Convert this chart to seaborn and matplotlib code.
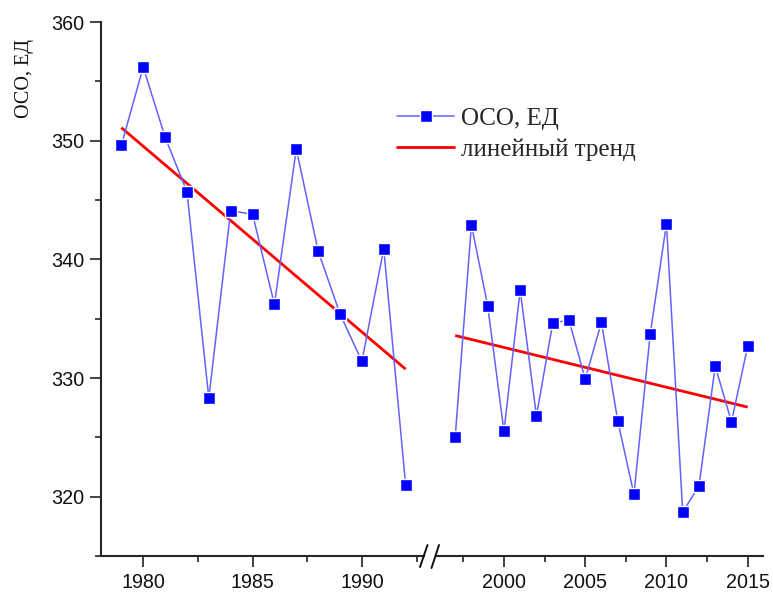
import numpy as np
import pandas as pd
import matplotlib
matplotlib.use("Agg")
import matplotlib.pyplot as plt
from matplotlib.lines import Line2D
from matplotlib.ticker import MultipleLocator, FixedLocator
import seaborn as sns

# ---- data ----
years_1 = [1979, 1980, 1981, 1982, 1983, 1984, 1985, 1986, 1987, 1988, 1989, 1990, 1991, 1992]
oso_1 = [349.6, 356.2, 350.3, 345.7, 328.3, 344.1, 343.8, 336.2, 349.3, 340.7, 335.4, 331.4, 340.9, 321.0]

years_2 = [1997, 1998, 1999, 2000, 2001, 2002, 2003, 2004, 2005, 2006, 2007, 2008, 2009,
           2010, 2011, 2012, 2013, 2014, 2015]
oso_2 = [325.0, 342.9, 336.1, 325.5, 337.4, 326.8, 334.6, 334.9, 329.9, 334.7, 326.4, 320.2,
         333.7, 343.0, 318.7, 320.9, 331.0, 326.3, 332.7]

xticks_1 = [1980, 1985, 1990]
xticks_2 = [2000, 2005, 2010, 2015]
yticks = [320, 330, 340, 350, 360]

series_label = "ОСО, ЕД"
trend_label = "линейный тренд"
ylabel = "ОСО, ЕД"

# ---- style ----
sns.set_style("ticks")
plt.rcParams["font.family"] = ["Liberation Sans", "DejaVu Sans"]

W, H = 773, 592
fig = plt.figure(figsize=(W / 100, H / 100), dpi=100)

def fx(px):
    return px / W

def fy(py):
    return 1 - py / H

bottom = fy(556)
height = (556 - 22) / H
ax1 = fig.add_axes([fx(101), bottom, fx(424) - fx(101), height])
ax2 = fig.add_axes([fx(436), bottom, fx(763) - fx(436), height], facecolor="none")

line_col = "#6262ff"
mark_col = "#0000ff"
red = "#ff0000"

df1 = pd.DataFrame({"year": years_1, "oso": oso_1})
df2 = pd.DataFrame({"year": years_2, "oso": oso_2})

for ax, df in ((ax1, df1), (ax2, df2)):
    sns.regplot(data=df, x="year", y="oso", ax=ax, scatter=False, ci=None, truncate=True,
                color=red, line_kws={"lw": 2.0, "zorder": 2, "solid_capstyle": "butt"})
    sns.lineplot(data=df, x="year", y="oso", ax=ax, color=line_col, lw=1.1,
                 marker="s", markersize=8.6, markerfacecolor=mark_col,
                 markeredgecolor="white", markeredgewidth=1.0, zorder=3)
    ax.set_ylim(315, 360)
    ax.set_xlabel("")
    ax.set_ylabel("")
    ax.grid(False)
    for s in ("top", "right"):
        ax.spines[s].set_visible(False)
    ax.spines["bottom"].set_linewidth(1.5)
    ax.spines["left"].set_linewidth(1.5)
    ax.tick_params(axis="both", which="major", direction="out", length=8, width=1.1,
                   labelsize=14.2, colors="#111111", pad=4.5)
    ax.tick_params(axis="both", which="minor", direction="out", length=4.5, width=1.1,
                   colors="#111111")

ax1.set_xlim(1978.07, 1992.84)
ax2.set_xlim(1995.82, 2015.94)
ax1.xaxis.set_major_locator(FixedLocator(xticks_1))
ax1.xaxis.set_minor_locator(FixedLocator([1982.5, 1987.5, 1992.5]))
ax2.xaxis.set_major_locator(FixedLocator(xticks_2))
ax2.xaxis.set_minor_locator(FixedLocator([1997.5, 2002.5, 2007.5, 2012.5]))
ax1.yaxis.set_major_locator(FixedLocator(yticks))
ax1.yaxis.set_minor_locator(MultipleLocator(5))
ax1.tick_params(axis="y", which="major", pad=4)
ax2.spines["left"].set_visible(False)
ax2.tick_params(axis="y", which="both", left=False, labelleft=False)

# axis break marks
for (x0, y0, x1, y1) in ((420, 567, 427.5, 545), (431.5, 568, 439, 545)):
    fig.add_artist(Line2D([fx(x0), fx(x1)], [fy(y0), fy(y1)], transform=fig.transFigure,
                          color="#111111", lw=1.4))

# y label
fig.text(fx(25), fy(79), ylabel, rotation=90, ha="center", va="center",
         family=["Liberation Serif", "DejaVu Serif"], fontsize=14.5, color="#111111")

# legend
handles = [
    Line2D([], [], color=line_col, lw=1.1, marker="s", markersize=8, markerfacecolor=mark_col,
           markeredgecolor="white", markeredgewidth=1.0),
    Line2D([], [], color=red, lw=2.0),
]
fig.legend(handles, [series_label, trend_label], loc="center left",
           bbox_to_anchor=(fx(397), fy(134)), bbox_transform=fig.transFigure,
           frameon=False, prop={"family": ["Liberation Serif", "DejaVu Serif"], "size": 18},
           handlelength=2.3, handletextpad=0.25, borderpad=0, borderaxespad=0,
           labelspacing=0.36, numpoints=1)

fig.savefig("out.png", dpi=100)
